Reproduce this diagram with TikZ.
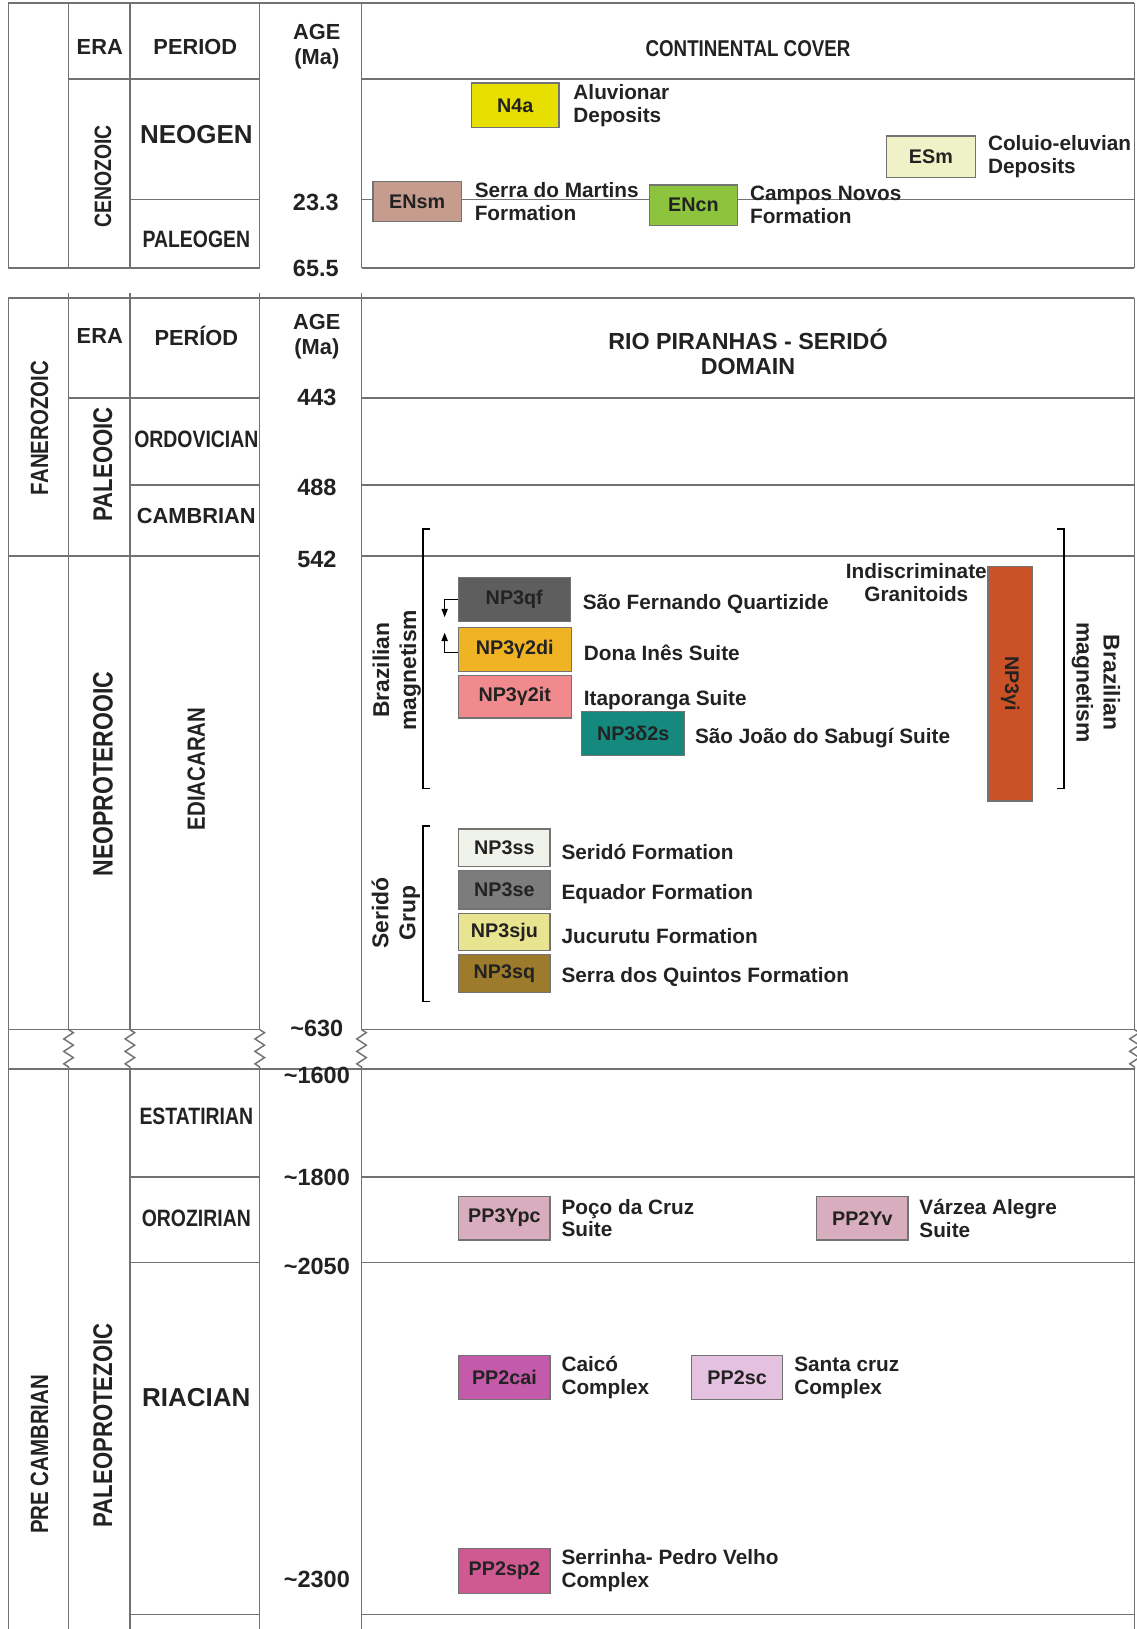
\documentclass[tikz,border=0pt]{standalone}
\usepackage{fontspec}
\setmainfont{Liberation Sans}
\newfontfamily\narrowsf[FakeStretch=0.82]{Liberation Sans}
\usetikzlibrary{positioning, arrows.meta, decorations.pathmorphing}
\definecolor{gridGray}{HTML}{727272}
\definecolor{txtDark}{HTML}{222222}
% unit colours
\definecolor{cNfa}{HTML}{E6DF00}
\definecolor{cENsm}{HTML}{C69C8E}
\definecolor{cENcn}{HTML}{8CC43E}
\definecolor{cESm}{HTML}{EEF2C6}
\definecolor{cNPqf}{HTML}{5E5E5E}
\definecolor{cNPdi}{HTML}{F0B324}
\definecolor{cNPit}{HTML}{F08A8D}
\definecolor{cNPds}{HTML}{15897E}
\definecolor{cNPgi}{HTML}{CB5227}
\definecolor{cNPss}{HTML}{F0F3EA}
\definecolor{cNPse}{HTML}{7C7C7C}
\definecolor{cNPsju}{HTML}{E8E48F}
\definecolor{cNPsq}{HTML}{9C7B2C}
\definecolor{cPPy}{HTML}{D8AEBF}
\definecolor{cPPcai}{HTML}{C45BAA}
\definecolor{cPPsc}{HTML}{E4C2DF}
\definecolor{cPPsp}{HTML}{CF5A92}

\begin{document}
\begin{tikzpicture}[x=0.5pt, y=-0.5pt,
  tabline/.style={draw=gridGray, line width=0.7pt},
  brk/.style={tabline, decorate, decoration={zigzag, segment length=6pt, amplitude=2.3pt}},
  bracketline/.style={draw=black, line width=0.8pt},
  colhead/.style={font=\bfseries\fontsize{10.5}{12}\selectfont, align=center, text=txtDark},
  bigper/.style={font=\bfseries\fontsize{12.5}{14}\selectfont, text=txtDark},
  narper/.style={font=\narrowsf\bfseries\fontsize{11.4}{13}\selectfont, text=txtDark},
  erarot/.style={narper, rotate=90},
  agelbl/.style={font=\bfseries\fontsize{11.3}{13}\selectfont, text=txtDark},
  unitbox/.style={draw=black!55, line width=0.6pt, inner sep=0pt,
    font=\bfseries\fontsize{9.5}{11}\selectfont, text=txtDark},
  unitlbl/.style={inner sep=0pt, align=left, font=\bfseries\fontsize{10}{11}\selectfont, text=txtDark},
  grouplbl/.style={align=center, font=\bfseries\fontsize{11}{13}\selectfont, text=txtDark},
  tinyarrow/.style={draw=black, line width=0.5pt, -{Triangle[length=4pt, width=3pt]}},
]
\useasboundingbox (0,0) rectangle (1094,1568);

% ---- continental cover table
\draw[tabline] (8,3) -- (1092,3);
\draw[tabline] (8,3) -- (8,258) (66,3) -- (66,258) (125,3) -- (125,258)
  (250,3) -- (250,258) (348,3) -- (348,258) (1092,3) -- (1092,258);
\draw[tabline] (66,76) -- (250,76) (348,76) -- (1092,76);
\draw[tabline] (125,192) -- (250,192) (348,192) -- (1092,192);
\draw[tabline] (8,258) -- (250,258) (348,258) -- (1092,258);

\node[colhead] (eraA) at (96,45) {ERA};
\node[colhead] (perA) at (188,45) {PERIOD};
\node[colhead] (ageA) at (305,45) {AGE\\(Ma)};
\node[colhead, font=\narrowsf\bfseries\fontsize{11}{13}\selectfont] (coverA) at (720,47) {CONTINENTAL COVER};
\node[erarot] (cenozoic) at (99,170) {CENOZOIC};
\node[bigper] (neogen) at (189,130) {NEOGEN};
\node[narper] (paleogen) at (189,230) {PALEOGEN};
\node[agelbl] (a233) at (304,195) {23.3};
\node[agelbl] (a655) at (304,258) {65.5};

\node[unitbox, fill=cNfa, minimum width=42pt, minimum height=21.5pt] (n4a) at (496,101.5) {N4a};
\node[unitlbl, right=6.5pt of n4a] (n4aL) {Aluvionar\\Deposits};
\node[unitbox, fill=cENsm, minimum width=42.5pt, minimum height=19pt] (ensm) at (401.5,194) {ENsm};
\node[unitlbl, right=6pt of ensm] (ensmL) {Serra do Martins\\Formation};
\node[unitbox, fill=cENcn, minimum width=42.5pt, minimum height=19.5pt] (encn) at (667.5,197.5) {ENcn};
\node[unitlbl, right=5.5pt of encn] (encnL) {Campos Novos\\Formation};
\node[unitbox, fill=cESm, minimum width=43pt, minimum height=20pt] (esm) at (896,151) {ESm};
\node[unitlbl, right=5.5pt of esm] (esmL) {Coluio-eluvian\\Deposits};

% ---- Rio Piranhas - Serido table
\draw[tabline] (8,287) -- (1092,287) (8,287) -- (8,1568);
\draw[tabline] (66,282) -- (66,991) (125,282) -- (125,991) (250,282) -- (250,991)
  (348,282) -- (348,991) (1092,287) -- (1092,991);
\foreach \xx in {66,125,250,348,1092}{
  \draw[brk] (\xx,991) -- (\xx,1029);
  \draw[tabline] (\xx,1029) -- (\xx,1568);
}
\draw[tabline] (66,383) -- (250,383) (348,383) -- (1092,383);
\draw[tabline] (125,467) -- (250,467) (348,467) -- (1092,467);
\draw[tabline] (8,535) -- (250,535) (348,535) -- (1092,535);
\draw[tabline] (8,991) -- (250,991) (348,991) -- (1092,991);
\draw[tabline] (8,1029) -- (1092,1029);
\draw[tabline] (125,1133) -- (250,1133) (348,1133) -- (1092,1133);
\draw[tabline] (125,1215) -- (250,1215) (348,1215) -- (1092,1215);
\draw[tabline] (125,1554) -- (250,1554) (348,1554) -- (1092,1554);

\node[colhead] (eraB) at (96,323) {ERA};
\node[colhead] (perB) at (189,323) {PERÍOD};
\node[colhead] (ageB) at (305,324) {AGE\\(Ma)};
\node[colhead, font=\bfseries\fontsize{11.2}{12}\selectfont] (domB) at (720,339) {RIO PIRANHAS - SERIDÓ\\DOMAIN};

\node[erarot, font=\narrowsf\bfseries\fontsize{12}{14}\selectfont] (fanero) at (38,412) {FANEROZOIC};
\node[erarot, font=\narrowsf\bfseries\fontsize{13}{15}\selectfont] (paleoz) at (99,447) {PALEOOIC};
\node[narper] (ordov) at (189,423) {ORDOVICIAN};
\node[colhead] (cambr) at (189,497) {CAMBRIAN};
\node[erarot, font=\narrowsf\bfseries\fontsize{13.5}{15}\selectfont] (neopro) at (99,745) {NEOPROTEROOIC};
\node[erarot, font=\narrowsf\bfseries\fontsize{12}{14}\selectfont] (ediac) at (189,740) {EDIACARAN};
\node[narper] (estat) at (189,1075) {ESTATIRIAN};
\node[narper] (orozi) at (189,1173) {OROZIRIAN};
\node[bigper] (riaci) at (189,1345) {RIACIAN};
\node[erarot, font=\narrowsf\bfseries\fontsize{12}{14}\selectfont] (precam) at (38,1400) {PRE CAMBRIAN};
\node[erarot, font=\narrowsf\bfseries\fontsize{13}{15}\selectfont] (paleopr) at (99,1372) {PALEOPROTEZOIC};

\node[agelbl] (a443) at (305,383) {443};
\node[agelbl] (a488) at (305,469) {488};
\node[agelbl] (a542) at (305,538) {542};
\node[agelbl] (a630) at (305,990) {\textasciitilde630};
\node[agelbl] (a1600) at (305,1035) {\textasciitilde1600};
\node[agelbl] (a1800) at (305,1133) {\textasciitilde1800};
\node[agelbl] (a2050) at (305,1219) {\textasciitilde2050};
\node[agelbl] (a2300) at (305,1520) {\textasciitilde2300};

% ---- Brazilian magnetism
\draw[bracketline] (414,509) -- (407,509) -- (407,759) -- (414,759);
\draw[bracketline] (1017,509) -- (1024,509) -- (1024,759) -- (1017,759);
\node[grouplbl, rotate=90] (brazL) at (382,645) {Brazilian\\magnetism};
\node[grouplbl, rotate=-90] (brazR) at (1055,657) {Brazilian\\magnetism};

\node[unitbox, fill=cNPqf, minimum width=54pt, minimum height=21pt] (qf) at (495,577) {NP3qf};
\node[unitlbl, right=5.5pt of qf, yshift=-2pt] (qfL) {São Fernando Quartizide};
\node[unitbox, fill=cNPdi, minimum width=54.5pt, minimum height=21pt] (di) at (495.5,625) {NP3γ2di};
\node[unitlbl, right=5.5pt of di, yshift=-1.5pt] (diL) {Dona Inês Suite};
\node[unitbox, fill=cNPit, minimum width=54.5pt, minimum height=20.5pt] (it) at (495.5,670.5) {NP3γ2it};
\node[unitlbl, right=5.5pt of it, yshift=-1.5pt] (itL) {Itaporanga Suite};
\node[unitbox, fill=cNPds, minimum width=49.5pt, minimum height=21pt] (ds) at (609.5,706) {NP3δ2s};
\node[unitlbl, right=4.5pt of ds, yshift=-2pt] (dsL) {São João do Sabugí Suite};
\node[unitbox, fill=cNPgi, minimum width=21.5pt, minimum height=113pt] (gi) at (972.5,658) {};
\node[unitbox, draw=none, fill=none, rotate=-90] (giT) at (gi.center) {NP3γi};
\node[unitlbl, align=center] (giL) at (882,561) {Indiscriminate\\Granitoids};

\coordinate (qfTip) at (428,594);
\coordinate (diTip) at (428,609);
\draw[tinyarrow] (qf.west) -| (qfTip);
\draw[tinyarrow] ([yshift=-1.5pt]di.west) -| (diTip);

% ---- Serido group
\draw[bracketline] (414,795) -- (407,795) -- (407,964) -- (414,964);
\node[grouplbl, rotate=90] (seridoG) at (381,879) {Seridó\\Grup};
\node[unitbox, fill=cNPss, minimum width=44pt, minimum height=18pt] (ss) at (485.5,816) {NP3ss};
\node[unitlbl, right=5pt of ss, yshift=-2pt] (ssL) {Seridó Formation};
\node[unitbox, fill=cNPse, minimum width=44pt, minimum height=18.5pt] (se) at (485.5,856.5) {NP3se};
\node[unitlbl, right=5pt of se, yshift=-2pt] (seL) {Equador Formation};
\node[unitbox, fill=cNPsju, minimum width=44pt, minimum height=18pt] (sju) at (485.5,897) {NP3sju};
\node[unitlbl, right=5pt of sju, yshift=-2pt] (sjuL) {Jucurutu Formation};
\node[unitbox, fill=cNPsq, minimum width=44pt, minimum height=18pt] (sq) at (485.5,937) {NP3sq};
\node[unitlbl, right=5pt of sq, yshift=-1.5pt] (sqL) {Serra dos Quintos Formation};

% ---- paleoproterozoic units
\node[unitbox, fill=cPPy, minimum width=44pt, minimum height=21pt] (ypc) at (485.5,1172.5) {PP3Ypc};
\node[unitlbl, right=5pt of ypc] (ypcL) {Poço da Cruz\\Suite};
\node[unitbox, fill=cPPy, minimum width=44pt, minimum height=21pt] (yv) at (830,1172.5) {PP2Yv};
\node[unitlbl, right=5pt of yv] (yvL) {Várzea Alegre\\Suite};
\node[unitbox, fill=cPPcai, minimum width=44pt, minimum height=21pt] (cai) at (485.5,1326) {PP2cai};
\node[unitlbl, right=5pt of cai] (caiL) {Caicó\\Complex};
\node[unitbox, fill=cPPsc, minimum width=44pt, minimum height=21pt] (psc) at (709.5,1326) {PP2sc};
\node[unitlbl, right=5pt of psc] (pscL) {Santa cruz\\Complex};
\node[unitbox, fill=cPPsp, minimum width=44pt, minimum height=21.5pt] (sp) at (485.5,1512) {PP2sp2};
\node[unitlbl, right=5pt of sp] (spL) {Serrinha- Pedro Velho\\Complex};
\end{tikzpicture}
\end{document}
